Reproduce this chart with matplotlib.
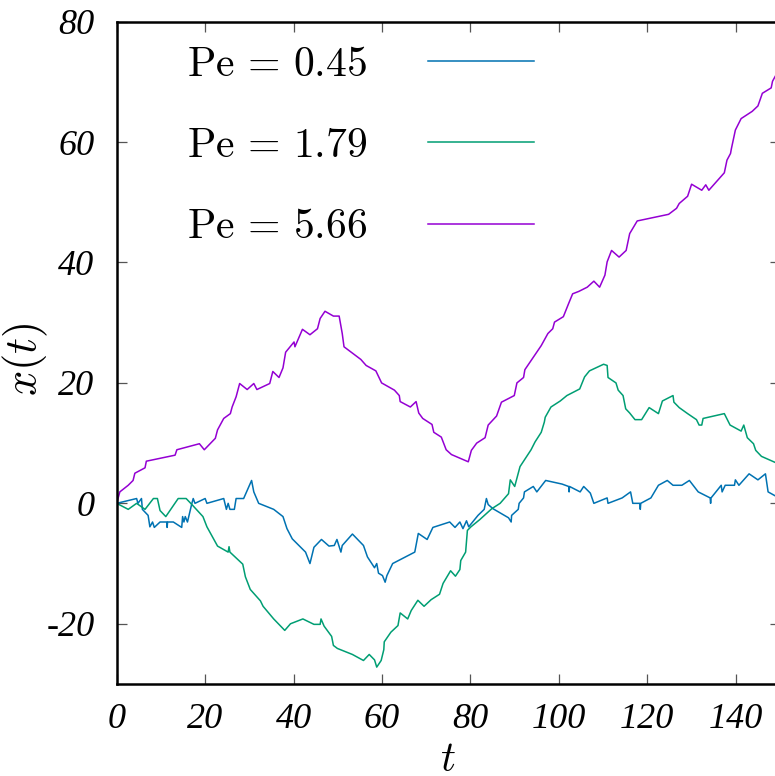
import matplotlib
matplotlib.use("Agg")
import matplotlib.pyplot as plt

# trajectories (t, x(t))
t_045 = [0, 4.5, 4.8, 5.6, 5.8, 7.1, 7.5, 8.1, 8.5, 9.8, 11.3, 11.4, 11.5, 12.8, 14.7, 14.9, 15.2, 15.5, 16, 17,
         17.3, 17.7, 20, 20.4, 24.2, 24.8, 25.2, 25.6, 26.6, 27, 28.7, 30.5, 31, 32.1, 35.5, 37.6, 38.5, 39.7, 41.2, 42.7,
         43.7, 44.6, 46.3, 48, 49.2, 49.8, 50.7, 51, 53.3, 55.8, 56.7, 58.3, 58.8, 59.2, 60.1, 60.7, 61.1, 62.4, 67.4, 68.2,
         70.2, 71.5, 75.3, 76.5, 77.6, 78.3, 79.1, 79.6, 81.7, 83.1, 83.6, 84, 85.1, 88.6, 89.2, 89.3, 90.8, 91, 92, 92.2,
         94.2, 95, 97, 100.7, 102.2, 102.3, 102.4, 104.8, 105.6, 107.1, 107.9, 110.9, 111.1, 114.3, 116.2, 116.7, 118.3, 118.4, 118.5, 120.8,
         122.5, 124.5, 125.8, 127.8, 129.5, 131.5, 134.2, 134.3, 134.4, 135.5, 136.7, 136.9, 137.6, 139.7, 139.9, 140.7, 143, 145, 146.7, 147.3,
         149.5]
x_045 = [0, 0.8, 0, 0.8, -1, -2, -3.9, -3.1, -4, -3.1, -3.1, -4, -3.1, -3.1, -4, -2.2, -3.1, -2.2, -3.1, 0,
         0.8, 0, 0.8, 0, 0.8, -1, 0, -1, -1, 0.8, 0.8, 3.8, 1.9, 0, -1, -2.2, -4.2, -5.9, -7, -8.1,
         -10, -7.3, -6, -7.1, -7, -6, -8.1, -7, -5.1, -7, -8.9, -10.7, -10, -11.6, -12, -13.1, -12, -10, -8.1, -5,
         -6, -4, -3.1, -4, -3.1, -4.2, -2.9, -3.9, -2, -1, 0.8, -0.2, -0.9, -2.4, -3.1, -2, -1, 0, 0.9, 1.9,
         2.8, 1.9, 3.8, 3.2, 2.8, 1.9, 2.8, 1.9, 2.8, 1.7, 0, 0.9, 0, 0.9, 1.9, 0, 0, -1, 0, 0.9,
         3, 3.8, 3, 3, 3.8, 1.9, 0.9, 0, 0.9, 1.9, 3, 1.9, 3, 3, 3.9, 3, 4.9, 3.9, 4.9, 1.9,
         1]

t_179 = [0, 2.6, 4.5, 6.4, 8.3, 9.2, 9.8, 11.1, 13.9, 15.7, 17, 19.5, 20.4, 22.8, 25.2, 25.4, 25.6, 28.5, 29.1, 30.2,
         32.5, 33.1, 35.5, 38, 39.3, 42.1, 44.6, 46, 46.2, 46.9, 48.6, 49, 49.9, 53.3, 55.8, 57.1, 58.3, 58.8, 59.8, 60.4,
         60.5, 62, 63.6, 64.1, 65.8, 66.6, 68.1, 69.5, 71.1, 73, 73.8, 75.5, 76.6, 77.6, 77.8, 78.9, 79.3, 80.1, 82.1, 84.8,
         86.7, 88.6, 89, 90, 91.2, 93.7, 94.6, 96, 96.7, 96.9, 98.2, 100.3, 101.8, 104.7, 105.8, 106.9, 110.1, 110.9, 111.1, 112.9,
         113.4, 114.5, 115.1, 116, 117.2, 118.7, 120.4, 122.5, 123.4, 125.8, 126, 127.2, 129.1, 131.1, 131.7, 132.3, 132.6, 137.4, 138.7, 141.2,
         141.8, 142.6, 144, 144.5, 145.8, 149.5]
x_179 = [0, -1, 0, -1, 0.8, 0.8, -1.2, -2.2, 0.8, 0.8, -0.2, -2.2, -3.9, -7.1, -8.1, -7.2, -8.1, -10.1, -12.2, -14.3,
         -16.2, -17.1, -19.2, -21.1, -20, -19.2, -20.1, -20.1, -19.2, -20.4, -22.1, -23.6, -24.1, -25.1, -26.1, -25.1, -26, -27.2, -26.1, -24.3,
         -23, -21.4, -20.3, -18.2, -19.2, -17.8, -16.1, -17.1, -16, -15.1, -13.3, -11.2, -12.1, -11, -9.5, -8.1, -4.5, -3.9, -2.7, -0.9,
         0, 1.6, 3.9, 2.8, 6.1, 8.9, 10.2, 11.8, 13.5, 14.3, 16, 17, 17.9, 19, 21, 22, 23.1, 22.9, 20.9, 20,
         18.8, 17.9, 15.7, 15, 13.9, 13.9, 15.9, 14.9, 17, 17.9, 16.8, 15.9, 14.9, 13.9, 13, 13, 14.1, 14.9, 13, 12,
         13, 10.9, 9.9, 8.8, 7.8, 6.6]

t_566 = [0, 0.7, 2.6, 3.7, 4.1, 6.4, 6.7, 13.2, 13.6, 18.7, 19.8, 22.3, 22.8, 24.2, 25.7, 26.1, 27, 27.8, 29.5, 31,
         31.7, 34.6, 35.3, 36.7, 37.6, 38.2, 40.1, 40.3, 42, 43.7, 45.4, 46, 47.1, 49, 50.3, 51, 51.4, 55.2, 56.4, 58.6,
         59.9, 62.8, 63.9, 64.1, 66.4, 67.7, 68.3, 69.2, 71.3, 71.7, 73.4, 74.5, 75.7, 79.5, 80.2, 81.4, 83.3, 84, 85.9, 87,
         89.9, 90.5, 92, 92.3, 96, 97.5, 98.6, 99, 101, 102.2, 103.1, 104.5, 106.4, 107.9, 109.2, 110.4, 110.9, 111.9, 113.6, 115.2,
         116, 117.7, 124.8, 126.6, 127.2, 129.1, 130, 132.3, 133.2, 133.9, 137.4, 138, 138.8, 139, 139.9, 141.2, 143.7, 145, 146, 148,
         148.3, 149.5]
x_566 = [0, 1.9, 3, 3.8, 5, 5.9, 7, 8, 8.9, 9.9, 8.9, 10.8, 12.2, 14.1, 14.9, 16, 17.7, 19.9, 18.9, 19.9,
         18.9, 19.9, 21.9, 20.9, 22.5, 25.1, 26.8, 26, 28.9, 28, 29, 30.7, 31.9, 31.1, 31.1, 28.2, 26, 23.9, 22.9, 22,
         20, 18.8, 17.9, 16.9, 16, 16.9, 15, 14.1, 13.1, 11.8, 11, 8.9, 8.1, 6.9, 8.8, 10, 10.9, 13, 14.5, 16.8,
         17.9, 20, 20.9, 22.2, 26.2, 28.2, 29, 30.1, 31, 33.2, 34.8, 35.2, 35.9, 36.9, 35.9, 37.9, 40.1, 42, 40.9, 42,
         44.8, 46.9, 48, 49, 49.8, 51, 53, 52, 52.9, 52, 54.9, 57, 58.1, 58.9, 62, 63.9, 65.1, 66, 68.1, 69,
         70.1, 71.7]

labels = [r"$\mathrm{Pe}\,=\,0.45$", r"$\mathrm{Pe}\,=\,1.79$", r"$\mathrm{Pe}\,=\,5.66$"]
colors = ["#0072b2", "#009e73", "#9400d3"]
xticks = [0, 20, 40, 60, 80, 100, 120, 140]
yticks = [-20, 0, 20, 40, 60, 80]

plt.rcParams["mathtext.fontset"] = "cm"
plt.rcParams["axes.unicode_minus"] = False

fig = plt.figure(figsize=(7.75, 7.76), dpi=100)
ax = fig.add_axes([0.1506, 0.1186, 0.8559, 0.8535])

for t, x, lab, c in zip([t_045, t_179, t_566], [x_045, x_179, x_566], labels, colors):
    ax.plot(t, x, color=c, lw=1.1, label=lab)

ax.set_xlim(0, 150)
ax.set_ylim(-30, 80)
ax.set_xticks(xticks)
ax.set_yticks(yticks)
ax.set_xticklabels([str(v) for v in xticks], family="Liberation Serif", style="italic", fontsize=26)
ax.set_yticklabels([str(v) for v in yticks], family="Liberation Serif", style="italic", fontsize=26)
ax.tick_params(direction="in", top=True, right=True, length=7.2, width=0.9, color="#555555")
ax.tick_params(axis="x", pad=14)
ax.tick_params(axis="y", pad=16)
for s in ax.spines.values():
    s.set_linewidth(1.8)

ax.set_xlabel(r"$t$", fontsize=30)
ax.set_ylabel(r"$x(t)$", fontsize=32)
ax.xaxis.set_label_coords(0.5, -0.082)
ax.yaxis.set_label_coords(-0.1, 0.49)

ax.legend(loc="upper left", bbox_to_anchor=(0.1056, 0.968), markerfirst=False, frameon=False,
          fontsize=30, handlelength=2.55, handletextpad=1.46, labelspacing=0.94,
          borderaxespad=0, borderpad=0)

fig.savefig("out.png", dpi=100)
